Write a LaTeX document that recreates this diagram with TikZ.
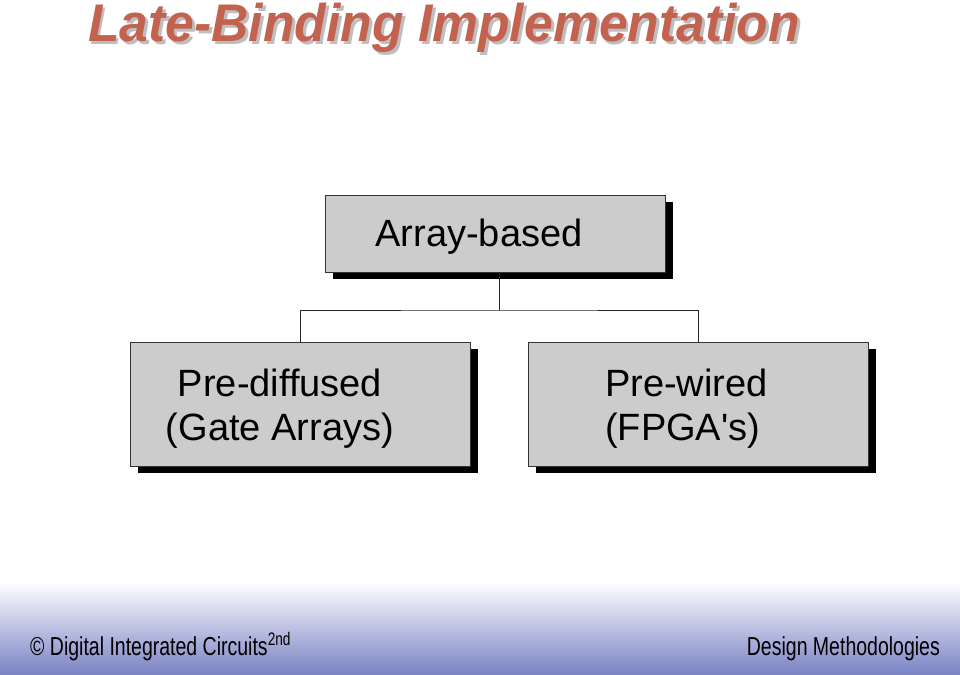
\documentclass[tikz,border=0pt]{standalone}
\usepackage{fontspec}
\setmainfont{Liberation Sans}
\usepackage{tikz}
\usetikzlibrary{shadows}

\definecolor{titlered}{RGB}{196,98,80}
\definecolor{titleshade}{RGB}{190,190,190}
\definecolor{boxgray}{RGB}{204,204,204}
\definecolor{footblue}{RGB}{122,130,196}

\tikzset{
  block/.style={draw=black!80, fill=boxgray, line width=0.8pt, minimum width=340pt,
    drop shadow={shadow xshift=8pt, shadow yshift=-7pt, fill=black, opacity=1}},
  blocktext/.style={font=\fontsize{38}{44}\selectfont, inner sep=0pt},
  titletext/.style={font=\fontsize{53}{60}\selectfont\bfseries\itshape, xscale=0.975, anchor=base},
  footer/.style={font=\fontsize{26}{28}\selectfont, xscale=0.75, inner sep=0pt}
}
% title with its grey shadow behind it
\newcommand{\shadowtitle}[1]{\rlap{\hspace{3pt}\raisebox{-3pt}{\color{titleshade}#1}}#1}

\begin{document}
\begin{tikzpicture}[x=1pt, y=1pt]
    \useasboundingbox (0,0) rectangle (960,674);
    % footer band
    \shade[top color=white, bottom color=footblue] (0,0) rectangle (960,92);

    % title
    \node[titletext, text=titlered] (title) at (444,632) {\shadowtitle{Late-Binding Implementation}};

    % boxes
    \node[block, minimum height=77pt] (array) at (495,440.5) {};
    \node[block, minimum height=124pt] (diffused) at (300,270) {};
    \node[block, minimum height=124pt] (wired) at (698,270) {};

    % box texts
    \node[blocktext, anchor=base] (arraytext) at (479,427.5) {Array-based};
    \node[blocktext, align=center, anchor=base] (diffusedtext) at (280,233) {Pre-diffused\\(Gate Arrays)};
    \node[blocktext, align=left, anchor=base west] (wiredtext) at (605,233) {Pre-wired\\(FPGA\textquotesingle s)};

    % tree lines
    \coordinate (fork) at (499,364);
    \draw[line width=0.8pt, black!85] (array.south -| fork) -- (fork);
    \draw[line width=0.8pt, black!85] (diffused.north) |- (fork) -| (wired.north);

    % footer texts
    \node[footer, anchor=base west] (credit) at (30,19) {\textcopyright{} Digital Integrated Circuits\textsuperscript{2nd}};
    \node[footer, anchor=base east] (chapter) at (940,19) {Design Methodologies};
\end{tikzpicture}
\end{document}
